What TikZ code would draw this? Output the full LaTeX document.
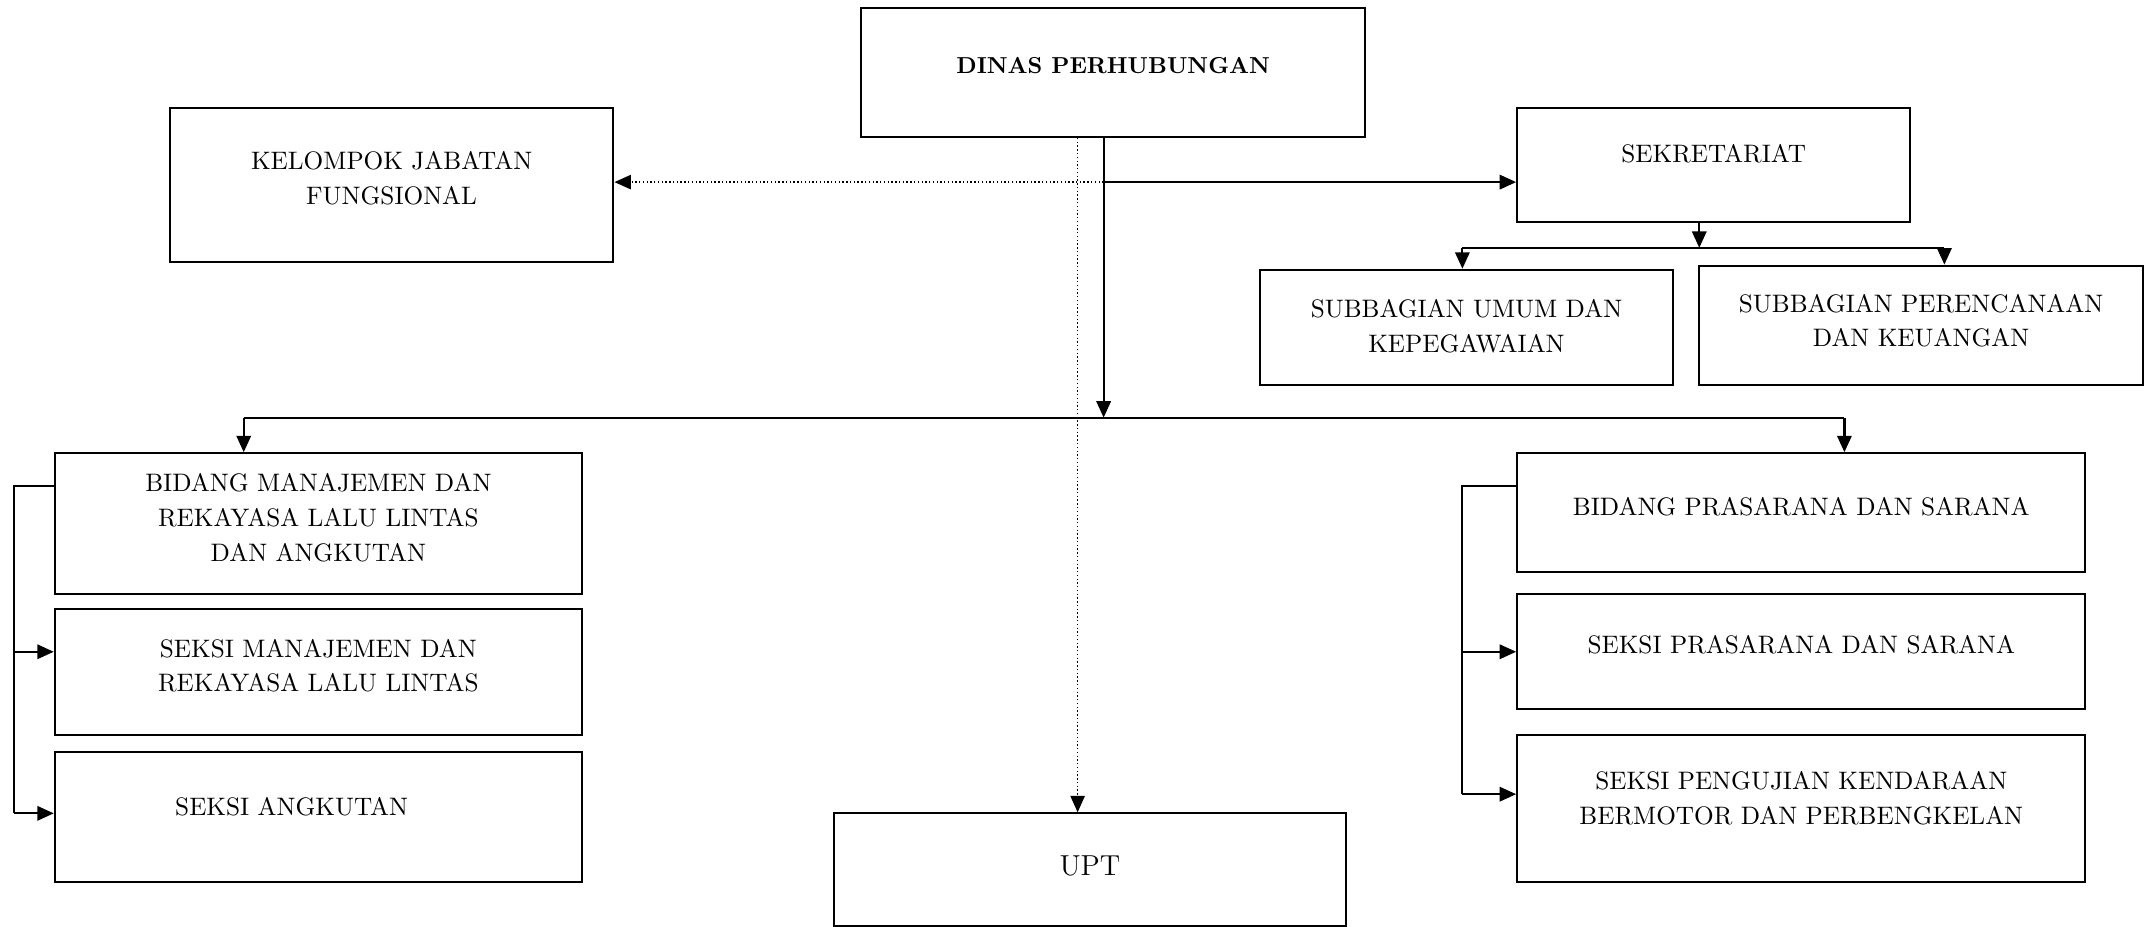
\documentclass[tikz,border=0pt]{standalone}
\usetikzlibrary{arrows.meta}
\newcommand{\boxgap}[1]{\rule[-#1]{0pt}{#1}}
\tikzset{
  box/.style={draw, line width=0.03cm, align=center, inner sep=0pt,
    font=\fontsize{10.5}{14.5}\selectfont},
  sz/.style 2 args={minimum width=#1cm, minimum height=#2cm},
  link/.style={line width=0.032cm},
  arrowed/.style={-{Triangle[length=0.24cm,width=0.21cm]}},
  dotline/.style={line width=0.02cm, dash pattern=on 0.02cm off 0.035cm}
}
\begin{document}
\begin{tikzpicture}
\useasboundingbox (0,0) rectangle (31.36,-13.54);

% Drawing box DINAS PERHUBUNGAN
\node[box, sz={7.36}{1.88}, font=\fontsize{9.6}{14.5}\selectfont\bfseries] (dinas) at (16.26,-1.06) {DINAS PERHUBUNGAN\boxgap{0.2cm}};

% Drawing box KELOMPOK JABATAN FUNGSIONAL
\node[box, sz={6.48}{2.24}] (kjf) at (5.72,-2.70) {KELOMPOK JABATAN\\FUNGSIONAL\boxgap{0.2cm}};

% Drawing box SEKRETARIAT
\node[box, sz={5.74}{1.66}] (sekr) at (25.03,-2.41) {SEKRETARIAT\boxgap{0.34cm}};

% Drawing boxes of the subbagian
\node[box, sz={6.04}{1.68}] (subum) at (21.42,-4.78) {SUBBAGIAN UMUM DAN\\KEPEGAWAIAN\boxgap{0.04cm}};
\node[box, sz={6.48}{1.74}] (subren) at (28.06,-4.75) {SUBBAGIAN PERENCANAAN\\DAN KEUANGAN\boxgap{0.14cm}};

% Drawing boxes on the left
\node[box, sz={7.70}{2.06}] (bidman) at (4.65,-7.65) {BIDANG MANAJEMEN DAN\\REKAYASA LALU LINTAS\\DAN ANGKUTAN\boxgap{0.18cm}};
\node[box, sz={7.70}{1.84}] (sekman) at (4.65,-9.82) {SEKSI MANAJEMEN DAN\\REKAYASA LALU LINTAS\boxgap{0.2cm}};
\node[box, sz={7.70}{1.90}] (sekang) at (4.65,-11.93) {SEKSI ANGKUTAN\hspace*{0.78cm}\boxgap{0.3cm}};

% Drawing boxes on the right
\node[box, sz={8.30}{1.74}] (bidpra) at (26.31,-7.49) {BIDANG PRASARANA DAN SARANA\boxgap{0.18cm}};
\node[box, sz={8.30}{1.68}] (sekpra) at (26.31,-9.52) {SEKSI PRASARANA DAN SARANA\boxgap{0.2cm}};
\node[box, sz={8.30}{2.14}] (sekuji) at (26.31,-11.81) {SEKSI PENGUJIAN KENDARAAN\\BERMOTOR DAN PERBENGKELAN\boxgap{0.32cm}};

% Drawing box UPT
\node[box, sz={7.48}{1.64}, font=\fontsize{12}{14.5}\selectfont] (upt) at (15.92,-12.70) {UPT\boxgap{0.12cm}};

% Drawing trunk line from the top
\coordinate (trunk) at (16.12,-6.10);
\coordinate (sekjn) at (16.12,-2.66);
\draw[link, arrowed] (trunk |- dinas.south) -- (trunk);
\draw[link, arrowed] (sekjn) -- (sekjn -| sekr.west);

% Drawing dotted lines
\coordinate (dotjn) at (15.74,-2.66);
\draw[dotline, arrowed] (dotjn |- dinas.south) -- (dotjn |- upt.north);
\draw[dotline, arrowed] (sekjn) -- (sekjn -| kjf.east);

% Drawing bus to the bidang
\coordinate (busL) at (3.56,-6.10);
\coordinate (busR) at (26.94,-6.10);
\draw[link] (busL) -- (busR);
\draw[link, arrowed] (busL) -- (busL |- bidman.north);
\draw[link, arrowed] (busR) -- (busR |- bidpra.north);

% Drawing bus to the subbagian
\coordinate (subjn) at (24.82,-3.62);
\coordinate (subL) at (21.36,-3.62);
\coordinate (subR) at (28.40,-3.62);
\draw[link, arrowed] (subjn |- sekr.south) -- (subjn);
\draw[link] (subL) -- (subR);
\draw[link, arrowed] (subL) -- (subL |- subum.north);
\draw[link, arrowed] (subR) -- (subR |- subren.north);

% Drawing left bracket
\coordinate (lbr) at (0.20,-7.10);
\coordinate (lb1) at (0.20,-9.52);
\coordinate (lb2) at (0.20,-11.88);
\draw[link] (bidman.west |- lbr) -- (lbr) -- (lb2);
\draw[link, arrowed] (lb1) -- (lb1 -| sekman.west);
\draw[link, arrowed] (lb2) -- (lb2 -| sekang.west);

% Drawing right bracket
\coordinate (rbr) at (21.36,-7.10);
\coordinate (rb1) at (21.36,-9.52);
\coordinate (rb2) at (21.36,-11.60);
\draw[link] (bidpra.west |- rbr) -- (rbr) -- (rb2);
\draw[link, arrowed] (rb1) -- (rb1 -| sekpra.west);
\draw[link, arrowed] (rb2) -- (rb2 -| sekuji.west);
\end{tikzpicture}
\end{document}
